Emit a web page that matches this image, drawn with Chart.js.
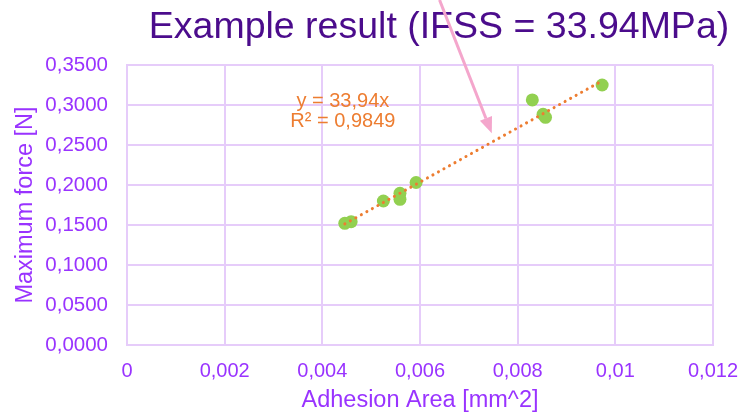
<!DOCTYPE html>
<html>
<head>
<meta charset="utf-8">
<script src="https://cdn.jsdelivr.net/npm/chart.js@4/dist/chart.umd.min.js"></script>
<style>
  html, body { margin: 0; padding: 0; background: #ffffff; }
  #wrap { width: 742px; height: 415px; position: relative; }
</style>
</head>
<body>
<div id="wrap"><canvas id="c" width="742" height="415"></canvas></div>
<script>
// ---- data ----
const areaValues  = [0.00446, 0.00459, 0.00525, 0.00559, 0.00559, 0.00592, 0.00830, 0.00852, 0.00857, 0.00973];
const forceValues = [0.1521, 0.1541, 0.1800, 0.1896, 0.1821, 0.2031, 0.3063, 0.2884, 0.2846, 0.3250];
const trendX = [0.00446, 0.00973];
const trendY = [0.1514, 0.3302];
const xTickValues = [0, 0.002, 0.004, 0.006, 0.008, 0.010, 0.012];
const xTickLabels = ['0', '0,002', '0,004', '0,006', '0,008', '0,01', '0,012'];
const yTickValues = [0, 0.05, 0.10, 0.15, 0.20, 0.25, 0.30, 0.35];
const yTickLabels = ['0,0000', '0,0500', '0,1000', '0,1500', '0,2000', '0,2500', '0,3000', '0,3500'];
const chartTitle = 'Example result (IFSS = 33.94MPa)';
const xTitle = 'Adhesion Area [mm^2]';
const yTitle = 'Maximum force [N]';
const equationLines = ['y = 33,94x', 'R² = 0,9849'];
const equationAnchor = [0.00442, 0.306];   // data coords of first line
const arrowFrom = [0.00640, 0.4313];
const arrowTo   = [0.00747, 0.2646];

const FONT = '"Liberation Sans", Arial, Helvetica, sans-serif';
const TICK_COLOR = '#9933FF';
const GRID_COLOR = '#E6CCFA';

const decorPlugin = {
  id: 'decor',
  afterDraw(chart) {
    const ctx = chart.ctx;
    const xs = chart.scales.x, ys = chart.scales.y;
    const ca = chart.chartArea;
    ctx.save();
    // equation text
    ctx.fillStyle = '#ED7D31';
    ctx.font = '20px ' + FONT;
    ctx.textAlign = 'center';
    ctx.textBaseline = 'alphabetic';
    const ex = xs.getPixelForValue(equationAnchor[0]);
    const ey = ys.getPixelForValue(equationAnchor[1]);
    ctx.fillText(equationLines[0], ex, ey + 7);
    ctx.fillText(equationLines[1], ex, ey + 7 + 20);
    // title
    ctx.fillStyle = '#4B0C8C';
    ctx.font = '37.5px ' + FONT;
    ctx.textAlign = 'center';
    ctx.fillText(chartTitle, (ca.left + ca.right) / 2 + 19, 38);
    // arrow
    const x0 = xs.getPixelForValue(arrowFrom[0]), y0 = ys.getPixelForValue(arrowFrom[1]);
    const x1 = xs.getPixelForValue(arrowTo[0]),   y1 = ys.getPixelForValue(arrowTo[1]);
    const ang = Math.atan2(y1 - y0, x1 - x0);
    const headLen = 16, headW = 6.5;
    const bx = x1 - headLen * Math.cos(ang), by = y1 - headLen * Math.sin(ang);
    ctx.strokeStyle = '#F4A6CC';
    ctx.fillStyle = '#F4A6CC';
    ctx.lineWidth = 3;
    ctx.beginPath();
    ctx.moveTo(x0, y0);
    ctx.lineTo(bx, by);
    ctx.stroke();
    ctx.beginPath();
    ctx.moveTo(x1, y1);
    ctx.lineTo(bx + headW * Math.sin(ang), by - headW * Math.cos(ang));
    ctx.lineTo(bx - headW * Math.sin(ang), by + headW * Math.cos(ang));
    ctx.closePath();
    ctx.fill();
    ctx.restore();
  }
};

new Chart(document.getElementById('c'), {
  type: 'scatter',
  data: {
    datasets: [
      {
        label: 'Trend',
        type: 'line',
        data: trendX.map((x, i) => ({ x: x, y: trendY[i] })),
        showLine: true,
        borderColor: '#ED7D31',
        borderWidth: 3,
        borderDash: [0.1, 6.2],
        borderCapStyle: 'round',
        pointRadius: 0,
        fill: false,
        order: 0
      },
      {
        label: 'Maximum force',
        data: areaValues.map((x, i) => ({ x: x, y: forceValues[i] })),
        backgroundColor: '#92D050',
        borderColor: '#92D050',
        pointRadius: 6.5,
        pointHoverRadius: 6.5,
        borderWidth: 0,
        order: 1
      }
    ]
  },
  options: {
    responsive: false,
    animation: false,
    devicePixelRatio: 1,
    layout: { padding: { top: 65, left: 0, right: 29, bottom: 0 } },
    plugins: {
      legend: { display: false },
      tooltip: { enabled: false },
      title: { display: false }
    },
    scales: {
      x: {
        type: 'linear',
        min: 0, max: 0.012,
        afterBuildTicks(scale) { scale.ticks = xTickValues.map(v => ({ value: v })); },
        afterFit(scale) { scale.height = 70; scale.paddingLeft = 0; scale.paddingRight = 0; },
        ticks: {
          color: TICK_COLOR,
          font: { family: FONT, size: 20 },
          padding: 14,
          maxRotation: 0,
          autoSkip: false,
          callback: (v, i) => xTickLabels[i]
        },
        grid: { color: GRID_COLOR, lineWidth: 2, drawTicks: false },
        border: { color: GRID_COLOR, width: 2 },
        title: {
          display: true,
          text: xTitle,
          color: TICK_COLOR,
          font: { family: FONT, size: 23.5 },
          padding: { top: 0, bottom: 0 }
        }
      },
      y: {
        type: 'linear',
        min: 0, max: 0.35,
        afterBuildTicks(scale) { scale.ticks = yTickValues.map(v => ({ value: v })); },
        afterFit(scale) { scale.width = 127; scale.paddingTop = 0; scale.paddingBottom = 0; },
        ticks: {
          color: TICK_COLOR,
          font: { family: FONT, size: 20.5 },
          padding: 19,
          autoSkip: false,
          callback: (v, i) => yTickLabels[i]
        },
        grid: { color: GRID_COLOR, lineWidth: 2, drawTicks: false },
        border: { color: GRID_COLOR, width: 2 },
        title: {
          display: true,
          text: yTitle,
          color: TICK_COLOR,
          font: { family: FONT, size: 23.5 },
          padding: { top: 11, bottom: 0 }
        }
      }
    }
  },
  plugins: [decorPlugin]
});
</script>
</body>
</html>
